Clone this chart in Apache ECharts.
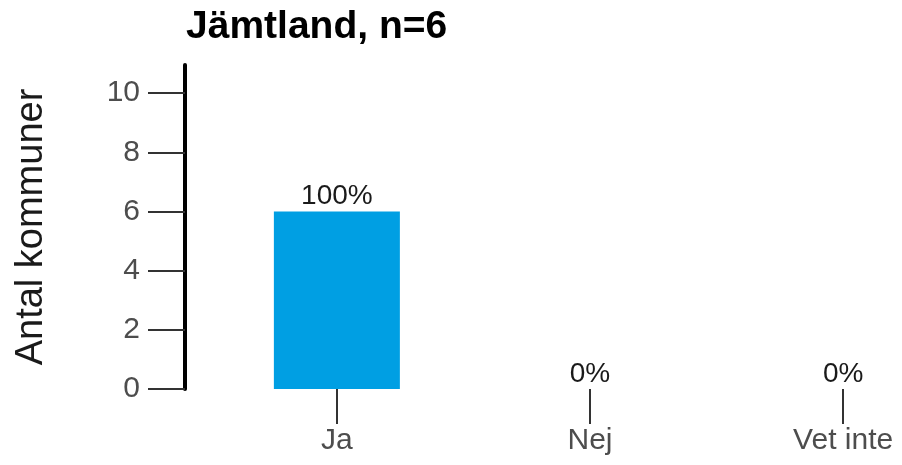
<!DOCTYPE html>
<html>
<head>
<meta charset="utf-8">
<script src="https://cdn.jsdelivr.net/npm/echarts@6/dist/echarts.min.js"></script>
<style>
  html, body { margin: 0; padding: 0; background: #fff; }
  #chart { width: 902px; height: 465px; }
</style>
</head>
<body>
<div id="chart"></div>
<script>
const categories = ['Ja', 'Nej', 'Vet inte']
const counts = [6, 0, 0]
const yTicks = [0, 2, 4, 6, 8, 10]
const titleText = 'Jämtland, n=6'

const total = counts.reduce((a, b) => a + b, 0)
const chart = echarts.init(document.getElementById('chart'))
const font = '"Liberation Sans", Arial, sans-serif'

// x runs 0.4..3.6 like a discrete scale with 0.6 expansion; right part falls outside the canvas
const option = {
  animation: false,
  title: {
    text: titleText,
    left: 181,
    top: 3,
    textStyle: { fontFamily: font, fontWeight: 'bold', fontSize: 39, color: '#000' }
  },
  grid: {
    left: 185,
    width: 810,
    top: 65,
    bottom: 76,
    containLabel: false,
    outerBoundsMode: 'none'
  },
  xAxis: {
    type: 'value',
    min: 0.4,
    max: 3.6,
    splitLine: { show: false },
    axisLine: { show: false },
    axisTick: {
      show: true,
      customValues: [1, 2, 3],
      length: 35,
      lineStyle: { color: '#333', width: 2 }
    },
    axisLabel: {
      customValues: [1, 2, 3],
      formatter: v => categories[Math.round(v) - 1] || '',
      margin: 37,
      fontFamily: font,
      fontSize: 30,
      color: '#4d4d4d'
    }
  },
  yAxis: {
    type: 'value',
    min: 0,
    max: 10.95,
    name: 'Antal kommuner',
    nameLocation: 'middle',
    nameGap: 134,
    nameTextStyle: { fontFamily: font, fontSize: 38, color: '#1a1a1a' },
    splitLine: { show: false },
    axisLine: { show: true, lineStyle: { color: '#000', width: 4 } },
    axisTick: {
      show: true,
      customValues: yTicks,
      length: 37,
      lineStyle: { color: '#333', width: 2 }
    },
    axisLabel: {
      customValues: yTicks,
      margin: 45,
      fontFamily: font,
      fontSize: 30,
      color: '#4d4d4d'
    }
  },
  series: [
    {
      type: 'bar',
      barWidth: 126,
      itemStyle: { color: '#009FE3' },
      label: {
        show: true,
        position: 'top',
        distance: 1,
        fontFamily: font,
        fontSize: 28,
        color: '#1a1a1a',
        formatter: p => Math.round((p.value[1] / total) * 100) + '%'
      },
      data: counts.map((c, i) => [i + 1, c])
    }
  ]
}
chart.setOption(option)
</script>
</body>
</html>
